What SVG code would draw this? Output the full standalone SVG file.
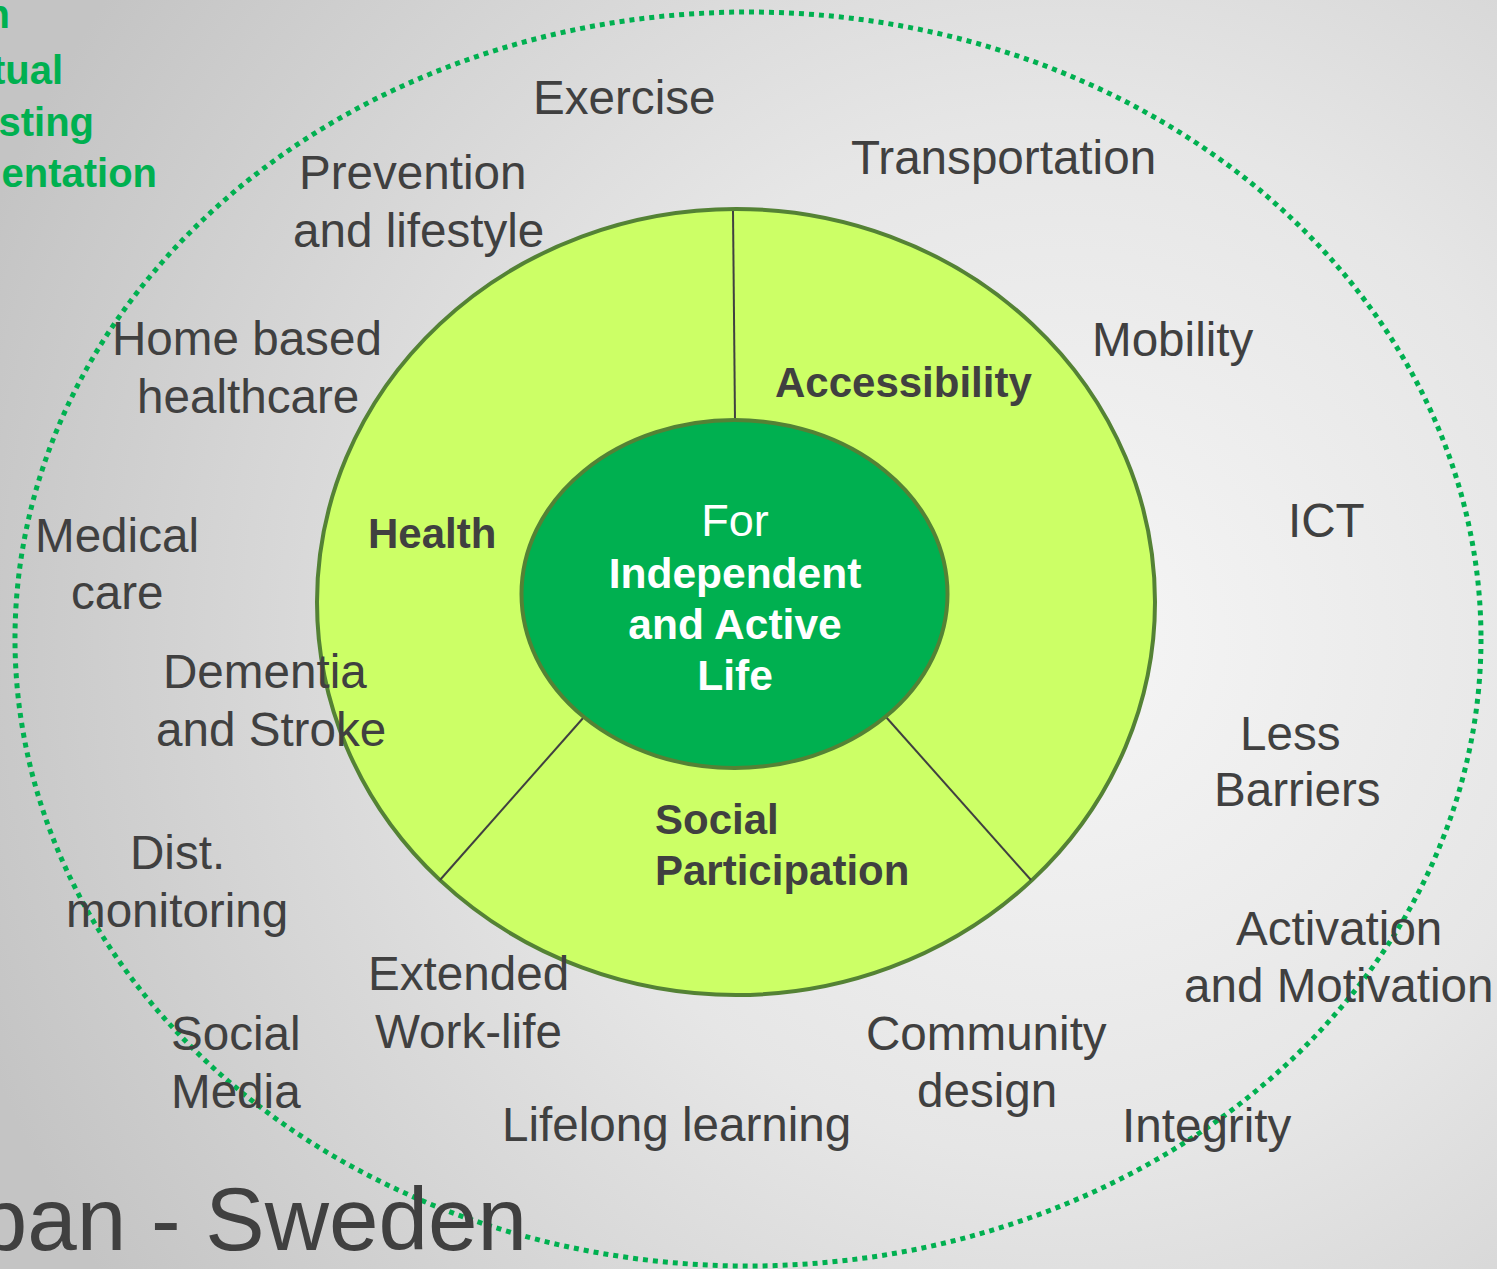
<svg xmlns="http://www.w3.org/2000/svg" width="1497" height="1269" viewBox="0 0 1497 1269">
<defs>
<radialGradient id="bg" gradientUnits="userSpaceOnUse" cx="1060" cy="640" r="1150">
<stop offset="0" stop-color="#f6f6f6"/>
<stop offset="0.45" stop-color="#e6e6e6"/>
<stop offset="1" stop-color="#c4c4c4"/>
</radialGradient>
<style>
.lbl{font-family:"Liberation Sans",Arial,sans-serif;font-size:47.6px;fill:#404040}
.cat{font-family:"Liberation Sans",Arial,sans-serif;font-size:42px;font-weight:bold;fill:#404040}
.ctr{font-family:"Liberation Sans",Arial,sans-serif;font-size:42.5px;font-weight:bold;fill:#ffffff;text-anchor:middle}
.grn{font-family:"Liberation Sans",Arial,sans-serif;font-size:40px;font-weight:bold;fill:#00b050;text-anchor:end}
.div{stroke:#404040;stroke-width:2;fill:none}
</style>
</defs>
<rect x="0" y="0" width="1497" height="1269" fill="url(#bg)"/>

<g id="corner-text">
<text class="grn" x="10" y="28">n</text>
<text class="grn" x="63" y="84">tual</text>
<text class="grn" x="94" y="136">sting</text>
<text class="grn" x="157" y="187">entation</text>
</g>

<g id="outer-boundary">
<ellipse cx="748" cy="639" rx="733" ry="627" fill="none" stroke="#00b050" stroke-width="5" stroke-dasharray="5 5"/>
</g>

<g id="ring">
<ellipse cx="736" cy="602" rx="419" ry="393" fill="#ccff66" stroke="#548235" stroke-width="4"/>
</g>

<g id="connectors">
<line class="div" x1="733" y1="211" x2="735" y2="420"/>
<line class="div" x1="584" y1="717" x2="440" y2="880"/>
<line class="div" x1="886" y1="717" x2="1031" y2="880"/>
</g>

<g id="center">
<ellipse cx="734.5" cy="594" rx="213" ry="174" fill="#00b050" stroke="#548235" stroke-width="4"/>
<text class="ctr" x="735" y="536" style="font-weight:normal;font-size:45px">For</text>
<text class="ctr" x="735" y="588">Independent</text>
<text class="ctr" x="735" y="639">and Active</text>
<text class="ctr" x="735" y="690">Life</text>
</g>

<g id="accessibility"><text class="cat" x="775" y="397">Accessibility</text></g>
<g id="health"><text class="cat" x="368" y="548">Health</text></g>
<g id="social-participation">
<text class="cat" x="655" y="834">Social</text>
<text class="cat" x="655" y="885">Participation</text>
</g>

<g id="exercise"><text class="lbl" x="533" y="114">Exercise</text></g>
<g id="transportation"><text class="lbl" x="851" y="174">Transportation</text></g>
<g id="prevention">
<text class="lbl" x="299" y="189">Prevention</text>
<text class="lbl" x="293" y="247">and lifestyle</text>
</g>
<g id="home-based">
<text class="lbl" x="112" y="355">Home based</text>
<text class="lbl" x="137" y="413">healthcare</text>
</g>
<g id="mobility"><text class="lbl" x="1092" y="356">Mobility</text></g>
<g id="ict"><text class="lbl" x="1288" y="537">ICT</text></g>
<g id="medical-care">
<text class="lbl" x="35" y="552">Medical</text>
<text class="lbl" x="71" y="609">care</text>
</g>
<g id="dementia">
<text class="lbl" x="163" y="688">Dementia</text>
<text class="lbl" x="156" y="746">and Stroke</text>
</g>
<g id="less-barriers">
<text class="lbl" x="1240" y="750">Less</text>
<text class="lbl" x="1214" y="806">Barriers</text>
</g>
<g id="dist-monitoring">
<text class="lbl" x="130" y="869">Dist.</text>
<text class="lbl" x="66" y="927">monitoring</text>
</g>
<g id="activation">
<text class="lbl" x="1236" y="945">Activation</text>
<text class="lbl" x="1184" y="1002">and Motivation</text>
</g>
<g id="extended-work-life">
<text class="lbl" x="368" y="990">Extended</text>
<text class="lbl" x="375" y="1048">Work-life</text>
</g>
<g id="community-design">
<text class="lbl" x="866" y="1050">Community</text>
<text class="lbl" x="917" y="1107">design</text>
</g>
<g id="social-media">
<text class="lbl" x="171" y="1050">Social</text>
<text class="lbl" x="171" y="1108">Media</text>
</g>
<g id="lifelong-learning"><text class="lbl" x="502" y="1141">Lifelong learning</text></g>
<g id="integrity"><text class="lbl" x="1122" y="1142">Integrity</text></g>

<g id="title">
<text x="527" y="1250" text-anchor="end" style="font-family:'Liberation Sans',Arial,sans-serif;font-size:89px;fill:#404040">pan - Sweden</text>
</g>
</svg>
